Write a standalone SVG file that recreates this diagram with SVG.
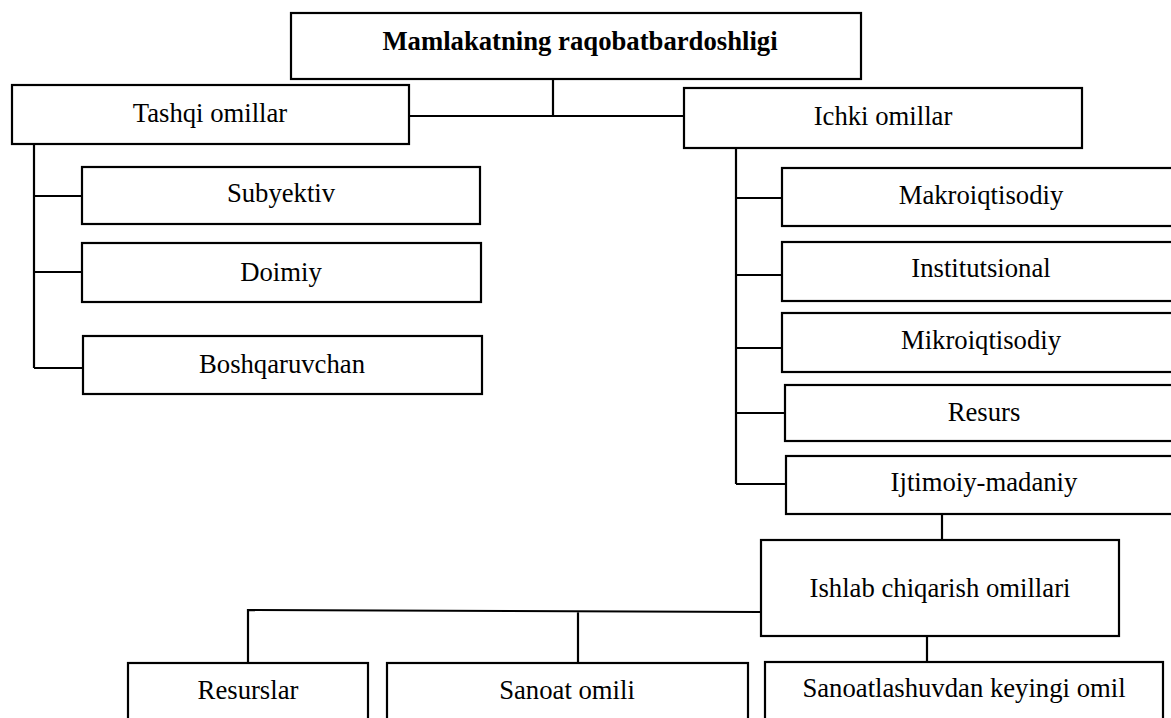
<svg xmlns="http://www.w3.org/2000/svg" width="1171" height="718" viewBox="0 0 1171 718">
  <style>
    .box { fill: #ffffff; stroke: #000000; stroke-width: 2.2; }
    .link { fill: none; stroke: #000000; stroke-width: 2.2; }
    .lbl { font-family: 'Liberation Serif', 'Times New Roman', serif; font-size: 26.7px; fill: #000000; text-anchor: middle; }
    .ttl { font-weight: bold; }
  </style>
  <rect width="1171" height="718" fill="#ffffff"/>

  <!-- connectors -->
  <g id="connectors">
    <!-- root to the two factor groups -->
    <path class="link" d="M553,79 V116 M409,116 H684"/>
    <!-- external factors trunk -->
    <path class="link" d="M34,144 V368 M34,196 H82 M34,272 H82 M34,368 H83"/>
    <!-- internal factors trunk -->
    <path class="link" d="M736,148 V484 M736,198 H782 M736,275 H782 M736,348 H785 M736,413 H785 M736,484 H786"/>
    <!-- socio-cultural to production factors -->
    <path class="link" d="M942,514 V540"/>
    <!-- production factors to its three branches -->
    <path class="link" d="M761,612 L248,610 V663 M578,611 V663 M927,636 V662"/>
  </g>

  <g id="node-root">
    <rect class="box" x="291" y="13" width="570" height="66"/>
    <text class="lbl ttl" x="580" y="50">Mamlakatning raqobatbardoshligi</text>
  </g>

  <g id="node-tashqi">
    <rect class="box" x="12" y="85" width="397" height="59"/>
    <text class="lbl" x="210" y="122">Tashqi omillar</text>
  </g>
  <g id="node-subyektiv">
    <rect class="box" x="82" y="167" width="398" height="57"/>
    <text class="lbl" x="281" y="202">Subyektiv</text>
  </g>
  <g id="node-doimiy">
    <rect class="box" x="82" y="243" width="399" height="59"/>
    <text class="lbl" x="281" y="281">Doimiy</text>
  </g>
  <g id="node-boshqaruvchan">
    <rect class="box" x="83" y="336" width="399" height="58"/>
    <text class="lbl" x="282" y="373">Boshqaruvchan</text>
  </g>

  <g id="node-ichki">
    <rect class="box" x="684" y="88" width="398" height="60"/>
    <text class="lbl" x="883" y="125">Ichki omillar</text>
  </g>
  <g id="node-makroiqtisodiy">
    <rect class="box" x="782" y="168" width="400" height="58"/>
    <text class="lbl" x="981" y="204">Makroiqtisodiy</text>
  </g>
  <g id="node-institutsional">
    <rect class="box" x="782" y="242" width="400" height="59"/>
    <text class="lbl" x="981" y="277">Institutsional</text>
  </g>
  <g id="node-mikroiqtisodiy">
    <rect class="box" x="782" y="313" width="400" height="59"/>
    <text class="lbl" x="981" y="349">Mikroiqtisodiy</text>
  </g>
  <g id="node-resurs">
    <rect class="box" x="785" y="385" width="400" height="56"/>
    <text class="lbl" x="984" y="421">Resurs</text>
  </g>
  <g id="node-ijtimoiy">
    <rect class="box" x="786" y="456" width="400" height="58"/>
    <text class="lbl" x="984" y="491">Ijtimoiy-madaniy</text>
  </g>

  <g id="node-ishlab">
    <rect class="box" x="761" y="540" width="358" height="96"/>
    <text class="lbl" x="940" y="597">Ishlab chiqarish omillari</text>
  </g>

  <g id="node-resurslar">
    <rect class="box" x="128" y="663" width="240" height="70"/>
    <text class="lbl" x="248" y="699">Resurslar</text>
  </g>
  <g id="node-sanoat">
    <rect class="box" x="387" y="663" width="361" height="70"/>
    <text class="lbl" x="567" y="699">Sanoat omili</text>
  </g>
  <g id="node-sanoatlashuv">
    <rect class="box" x="765" y="662" width="398" height="70"/>
    <text class="lbl" x="964" y="697">Sanoatlashuvdan keyingi omil</text>
  </g>
</svg>
